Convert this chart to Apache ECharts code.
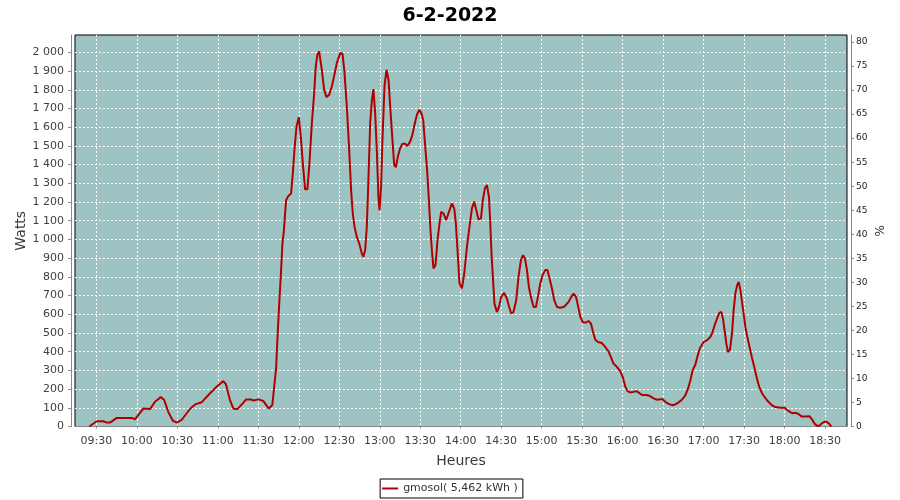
<!DOCTYPE html>
<html>
<head>
<meta charset="utf-8">
<script src="https://cdn.jsdelivr.net/npm/echarts@6/dist/echarts.min.js"></script>
<style>html,body{margin:0;padding:0;background:#fff}#c{width:900px;height:500px}</style>
</head>
<body>
<div id="c"></div>
<script>
const title = "6-2-2022";
const seriesName = "gmosol( 5,462 kWh )";
// minutes since midnight
const times = [564.8,570.3,575.2,577.7,580.2,585.1,596.2,598.7,604.8,609.8,613.5,617.7,620.2,623.4,626.6,629.6,633.3,639.5,643.2,648.1,654.3,658.7,664.1,666.1,669.1,671.6,674.5,677.8,681,684.5,686.4,690.1,693.8,697.8,700.4,701.6,703.2,704.4,705.7,706.9,707.9,709,710.6,712.3,714.3,715.6,716.8,718.3,720,721.5,723,724.7,726.4,727.9,729.7,731.4,732.6,733.8,735.1,737.1,738.8,740.5,742.5,744.5,746.4,748.2,750.7,752.4,753.8,755.6,757.2,758.8,760,761.3,763,764.8,766.7,767.9,769.2,770.4,771.6,772.9,774.2,775.3,776.6,777.9,779,779.8,781,782,783.5,785,786.5,787.9,789.4,790.7,791.9,793.4,795.1,796.8,798.8,800.5,802.5,804.2,805.7,807.5,809.2,810.7,812.2,813.7,815.1,816.4,817.6,818.8,819.8,821.3,822.8,824.3,825.5,827.2,829.2,830.9,833.5,835.2,836.4,837.6,839.1,840.9,842.6,844.6,846.5,848.3,850,851.5,853.2,855,856.4,857.9,859.4,860.9,861.8,862.8,863.8,865,866.8,868.3,870,872.2,874.2,875.9,877.4,879.1,881.1,882.8,884.6,886.1,887.6,889.1,890.5,892,894,895.7,897.2,898.9,900.6,902.6,904.3,905.8,907.6,909.3,911.3,913.7,916.7,919.9,921.6,923.6,925.4,927.1,928.6,930.6,932.8,934.7,936.5,938,939.7,941.7,944.6,947.1,949.5,951.3,953.2,955.8,958.2,960.2,961.9,963.6,965.6,967.6,970.1,972.5,974.3,977.5,979.9,982.9,985.4,987.9,989.6,991.6,994,996.5,999,1001.4,1003.9,1006.4,1008.4,1010.1,1011.8,1013.8,1015.6,1017.3,1020,1022.4,1024.9,1026.6,1028.1,1029.9,1031.6,1033.1,1034.3,1035.5,1036.8,1038,1039.5,1041,1042.2,1043.5,1044.8,1046,1047.2,1048.4,1049.6,1050.9,1052.6,1054,1055.8,1057.5,1059.5,1061.2,1063.2,1065.2,1067.4,1070.2,1073.1,1076.8,1080,1083,1085.5,1088,1090,1092.4,1095.4,1098.3,1100.3,1102.3,1104,1105.7,1107.7,1110.2,1112.6,1114.6];
const watts = [0,28,28,21,21,46,46,39,96,93,132,157,143,77,32,21,36,95,118,130,178,210,243,225,139,95,93,118,145,145,139,145,136,96,115,200,310,500,680,836,979,1050,1211,1232,1246,1354,1479,1603,1654,1550,1407,1268,1268,1407,1622,1782,1925,1987,2005,1907,1800,1761,1773,1818,1880,1943,1997,1993,1900,1711,1500,1260,1140,1068,1014,979,925,907,943,1068,1318,1622,1746,1804,1675,1461,1228,1157,1282,1532,1818,1907,1854,1693,1532,1398,1386,1443,1488,1511,1511,1500,1523,1559,1612,1666,1693,1678,1639,1496,1371,1211,1050,925,845,862,996,1086,1148,1139,1104,1139,1193,1166,1086,943,764,738,818,961,1068,1166,1202,1157,1107,1113,1211,1273,1291,1228,1104,925,800,657,612,639,693,714,684,639,604,612,675,800,889,916,898,836,746,693,639,639,693,764,809,836,836,791,738,675,639,635,640,666,689,711,693,639,586,556,556,564,550,505,464,452,446,425,402,371,336,318,296,261,214,189,182,184,189,178,168,168,164,150,143,146,146,132,121,114,118,129,143,166,202,246,300,330,380,420,452,461,478,505,541,577,607,612,577,514,443,398,411,497,621,711,755,773,729,666,604,532,470,425,368,318,256,211,178,157,136,116,104,100,100,82,71,73,68,54,54,55,38,14,4,4,18,28,18,0];
const xTicks = [570,600,630,660,690,720,750,780,810,840,870,900,930,960,990,1020,1050,1080,1110];
const wattTicks = [0,100,200,300,400,500,600,700,800,900,1000,1100,1200,1300,1400,1500,1600,1700,1800,1900,2000];
const pctTicks = [0,5,10,15,20,25,30,35,40,45,50,55,60,65,70,75,80];

const pad = n => (n < 10 ? '0' : '') + n;
const fmtTime = v => { const m = Math.round(v); return pad(Math.floor(m / 60)) + ':' + pad(m % 60); };
const fmtW = v => { const s = String(Math.round(v)); return s.length > 3 ? s.slice(0, s.length - 3) + ' ' + s.slice(-3) : s; };

const FONT = 'DejaVu Sans';
const chart = echarts.init(document.getElementById('c'), null, { renderer: 'canvas' });
chart.setOption({
  animation: false,
  backgroundColor: '#ffffff',
  title: {
    text: title, left: 'center', top: 2,
    textStyle: { fontFamily: FONT, fontSize: 19, fontWeight: 'bold', color: '#000' }
  },
  grid: {
    left: 75, top: 35, width: 772, height: 391.5,
    show: true, backgroundColor: '#9dc4c2', borderColor: '#000', borderWidth: 1
  },
  legend: {
    bottom: 2, left: 'center',
    data: [{ name: seriesName, icon: 'rect' }],
    itemWidth: 16, itemHeight: 2,
    borderColor: '#000', borderWidth: 1, borderRadius: 0,
    padding: [4, 5, 4, 2],
    textStyle: { fontFamily: FONT, fontSize: 11, color: '#333' }
  },
  xAxis: {
    type: 'value', min: 554.2, max: 1126.2, offset: 4,
    name: 'Heures', nameLocation: 'middle', nameGap: 24, nameMoveOverlap: false,
    nameTextStyle: { fontFamily: FONT, fontSize: 14, color: '#3a3a3a' },
    axisLine: { show: true, lineStyle: { color: '#888', width: 1 } },
    axisTick: { show: true, length: 2, customValues: xTicks, lineStyle: { color: '#888' } },
    axisLabel: { customValues: xTicks, formatter: fmtTime, margin: 5, fontFamily: FONT, fontSize: 11, color: '#404040' },
    splitLine: { show: true, lineStyle: { color: '#ffffff', type: [2, 2], width: 1 } }
  },
  yAxis: [{
    type: 'value', position: 'left', min: 0, max: 2093, offset: 4,
    name: 'Watts', nameLocation: 'middle', nameRotate: 90, nameGap: 43, nameMoveOverlap: false,
    nameTextStyle: { fontFamily: FONT, fontSize: 14, color: '#3a3a3a' },
    axisLine: { show: true, lineStyle: { color: '#888', width: 1 } },
    axisTick: { show: true, length: 3, customValues: wattTicks, lineStyle: { color: '#888' } },
    axisLabel: { customValues: wattTicks, formatter: fmtW, margin: 7, fontFamily: FONT, fontSize: 11, color: '#404040' },
    splitLine: { show: true, lineStyle: { color: '#ffffff', type: [2, 2], width: 1 } }
  }, {
    type: 'value', position: 'right', min: 0, max: 81.46, offset: 4,
    name: '%', nameLocation: 'middle', nameRotate: 90, nameGap: 24, nameMoveOverlap: false,
    nameTextStyle: { fontFamily: FONT, fontSize: 12, color: '#333' },
    axisLine: { show: true, lineStyle: { color: '#888', width: 1 } },
    axisTick: { show: true, length: 3, customValues: pctTicks, lineStyle: { color: '#888' } },
    axisLabel: { customValues: pctTicks, margin: 5, fontFamily: FONT, fontSize: 9, color: '#222' },
    splitLine: { show: false }
  }],
  series: [{
    name: seriesName, type: 'line', yAxisIndex: 0,
    data: times.map((t, i) => [t, watts[i]]),
    showSymbol: false, symbol: 'none', smooth: false,
    lineStyle: { color: '#b00000', width: 2 }, itemStyle: { color: '#b00000' }
  }]
});
</script>
</body>
</html>
